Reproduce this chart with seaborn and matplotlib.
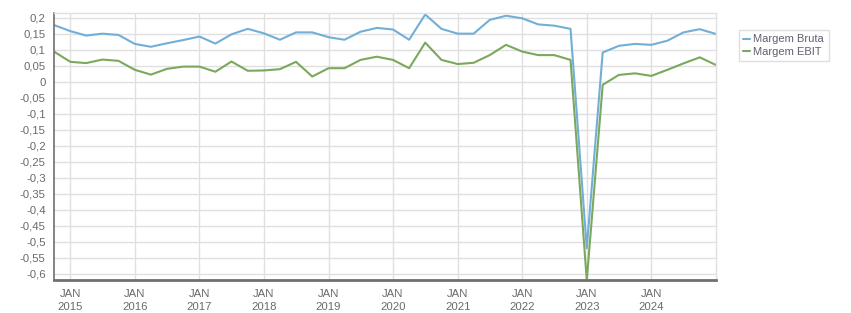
import numpy as np
import pandas as pd
import matplotlib
matplotlib.use("Agg")
import matplotlib.pyplot as plt
import matplotlib.ticker as mticker
import seaborn as sns

# quarterly periods from Oct 2014 to Jan 2025
dates = pd.date_range("2014-10-01", "2025-01-01", freq="QS")
margem_bruta = [0.178, 0.159, 0.145, 0.151, 0.147, 0.119, 0.110, 0.121, 0.131, 0.142, 0.120,
                0.149, 0.166, 0.152, 0.132, 0.155, 0.155, 0.140, 0.132, 0.157, 0.169,
                0.164, 0.132, 0.211, 0.166, 0.151, 0.151, 0.194, 0.207, 0.199, 0.180,
                0.176, 0.166, -0.52, 0.092, 0.113, 0.119, 0.116, 0.129, 0.155, 0.165, 0.150]
margem_ebit = [0.095, 0.063, 0.059, 0.070, 0.066, 0.038, 0.023, 0.041, 0.048, 0.048, 0.032,
               0.064, 0.035, 0.036, 0.040, 0.063, 0.017, 0.043, 0.043, 0.069, 0.079,
               0.069, 0.043, 0.123, 0.069, 0.056, 0.060, 0.084, 0.116, 0.095, 0.084,
               0.084, 0.069, -0.62, -0.009, 0.022, 0.027, 0.019, 0.038, 0.058, 0.077, 0.053]
tick_years = list(range(2015, 2025))
series_names = ["Margem Bruta", "Margem EBIT"]
colors = ["#72afd6", "#7ba85c"]

df = pd.DataFrame({
    "data": list(dates) * 2,
    "valor": margem_bruta + margem_ebit,
    "serie": [series_names[0]] * len(dates) + [series_names[1]] * len(dates),
})

sns.set_style("white")
plt.rcParams["font.family"] = ["Liberation Sans", "DejaVu Sans"]

fig = plt.figure(figsize=(8.51, 3.13), dpi=100)
ax = fig.add_axes([54 / 851, 1 - 280 / 313, (716 - 54) / 851, (280 - 13) / 313])

sns.lineplot(data=df, x="data", y="valor", hue="serie", palette=colors,
             linewidth=1.5, ax=ax, legend=True)

ax.set_xlim(dates[0], dates[-1])
ax.set_ylim(-0.619, 0.2156)

yticks = np.round(np.arange(-0.6, 0.2001, 0.05), 2)
ax.set_yticks(yticks)

def fmt(v, pos=None):
    s = f"{v:.2f}".rstrip("0").rstrip(".")
    if s in ("-0", "0"):
        return "0"
    return s.replace(".", ",")

ax.yaxis.set_major_formatter(mticker.FuncFormatter(fmt))
ax.set_xticks([pd.Timestamp(f"{y}-01-01") for y in tick_years])
ax.set_xticklabels([f"JAN\n{y}" for y in tick_years], linespacing=1.4)

ax.grid(True, color="#e0e0e0", linewidth=1.0)
ax.set_axisbelow(True)
for s in ["top", "right"]:
    ax.spines[s].set_color("#e0e0e0")
    ax.spines[s].set_linewidth(1.0)
ax.spines["left"].set_color("#707070")
ax.spines["left"].set_linewidth(1.2)
ax.spines["bottom"].set_color("#707070")
ax.spines["bottom"].set_linewidth(2.0)

ax.tick_params(axis="both", which="major", labelsize=8.2, labelcolor="#6a6a6a",
               color="#707070", length=4, width=1, direction="out")
ax.tick_params(axis="x", pad=2.5)
ax.tick_params(axis="y", pad=2)
ax.set_xlabel("")
ax.set_ylabel("")

leg = ax.legend(loc="upper left", bbox_to_anchor=(739 / 851, 1 - 30 / 313),
                bbox_transform=fig.transFigure, frameon=True, fancybox=False,
                fontsize=8, handlelength=0.6, handletextpad=0.3,
                borderpad=0.4, labelspacing=0.2, borderaxespad=0)
leg.get_frame().set_edgecolor("#d8d8d8")
leg.get_frame().set_linewidth(1.0)
for t in leg.get_texts():
    t.set_color("#606070")

fig.savefig("out.png", dpi=100)
